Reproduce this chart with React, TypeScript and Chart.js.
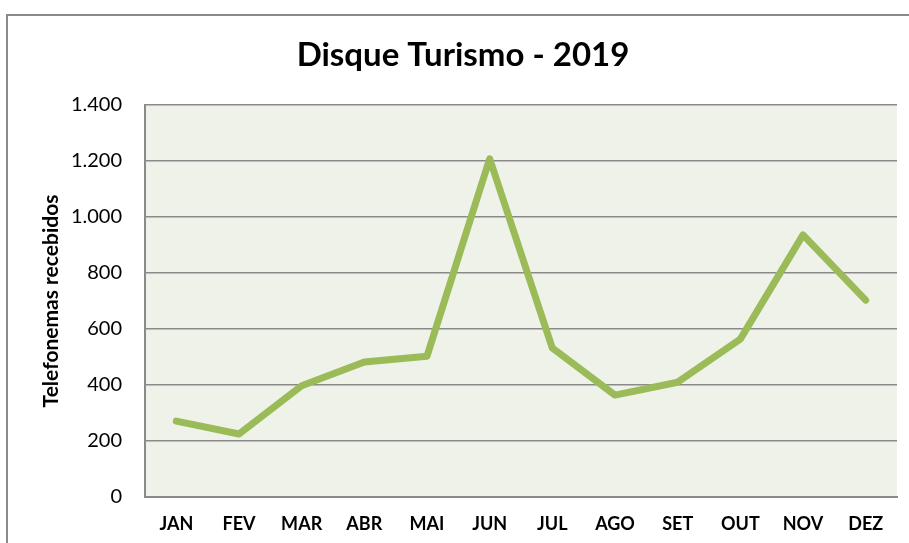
import React, { useEffect, useRef } from "react";
import { Chart, registerables } from "chart.js";

Chart.register(...registerables);

const months = ["JAN", "FEV", "MAR", "ABR", "MAI", "JUN", "JUL", "AGO", "SET", "OUT", "NOV", "DEZ"];
const calls = [271, 225, 397, 482, 503, 1208, 532, 364, 410, 564, 936, 703];
const yTicks = [0, 200, 400, 600, 800, 1000, 1200, 1400];
const chartTitle = "Disque Turismo - 2019";
const yTitle = "Telefonemas recebidos";

const FONT = "Lato, 'Open Sans', sans-serif";

const bgPlugin = {
  id: "bgPlugin",
  beforeDraw(chart: any) {
    const { ctx, chartArea } = chart;
    ctx.save();
    ctx.fillStyle = "#fff";
    ctx.fillRect(0, 0, chart.width, chart.height);
    ctx.strokeStyle = "#8a8a8a";
    ctx.lineWidth = 2;
    ctx.beginPath();
    ctx.moveTo(909, 15);
    ctx.lineTo(7, 15);
    ctx.lineTo(7, 543);
    ctx.stroke();
    ctx.fillStyle = "#eff2e9";
    ctx.fillRect(chartArea.left, chartArea.top, chartArea.right - chartArea.left, chartArea.bottom - chartArea.top);
    ctx.restore();
  },
  afterDraw(chart: any) {
    const { ctx } = chart;
    ctx.save();
    ctx.fillStyle = "#000";
    ctx.font = `bold 33px ${FONT}`;
    ctx.textAlign = "center";
    ctx.textBaseline = "middle";
    ctx.fillText(chartTitle, 463, 55);
    ctx.restore();
  },
};

export default function App() {
  const ref = useRef<HTMLCanvasElement | null>(null);
  useEffect(() => {
    if (!ref.current) return;
    const chart = new Chart(ref.current, {
      type: "line",
      data: {
        labels: months,
        datasets: [
          {
            data: calls,
            borderColor: "#9bbb59",
            borderWidth: 7,
            pointRadius: 0,
            borderCapStyle: "round",
            borderJoinStyle: "round",
            tension: 0,
            fill: false,
          },
        ],
      },
      options: {
        responsive: false,
        animation: false,
        layout: { padding: { left: 0, right: 12, top: 105, bottom: 0 } },
        plugins: {
          legend: { display: false },
          tooltip: { enabled: false },
          title: { display: false },
        },
        scales: {
          x: {
            offset: true,
            grid: { display: false, drawTicks: false },
            border: { display: true, color: "#8a8a8a", width: 2 },
            ticks: {
              color: "#000",
              padding: 16,
              font: { family: FONT, size: 18, weight: "bold" },
              maxRotation: 0,
              autoSkip: false,
            },
            afterFit: (s: any) => {
              s.height = 46;
            },
          },
          y: {
            min: 0,
            max: 1400,
            afterBuildTicks: (s: any) => {
              s.ticks = yTicks.map((v) => ({ value: v }));
            },
            grid: { color: "#8a8a8a", lineWidth: 1.5, drawTicks: false },
            border: { display: true, color: "#8a8a8a", width: 2 },
            ticks: {
              color: "#000",
              padding: 23,
              font: { family: FONT, size: 20 },
              callback: (v: any) => Number(v).toLocaleString("pt-BR"),
            },
            title: {
              display: true,
              text: yTitle,
              color: "#000",
              font: { family: FONT, size: 21, weight: "bold", lineHeight: 1.2 },
              padding: { top: 39, bottom: 0 },
            },
            afterFit: (s: any) => {
              s.width = 145;
            },
          },
        },
      },
      plugins: [bgPlugin],
    });
    return () => chart.destroy();
  }, []);
  return (
    <div style={{ position: "fixed", left: 0, top: 0, width: 909, height: 543 }}>
      <canvas ref={ref} width={909} height={543} />
    </div>
  );
}
